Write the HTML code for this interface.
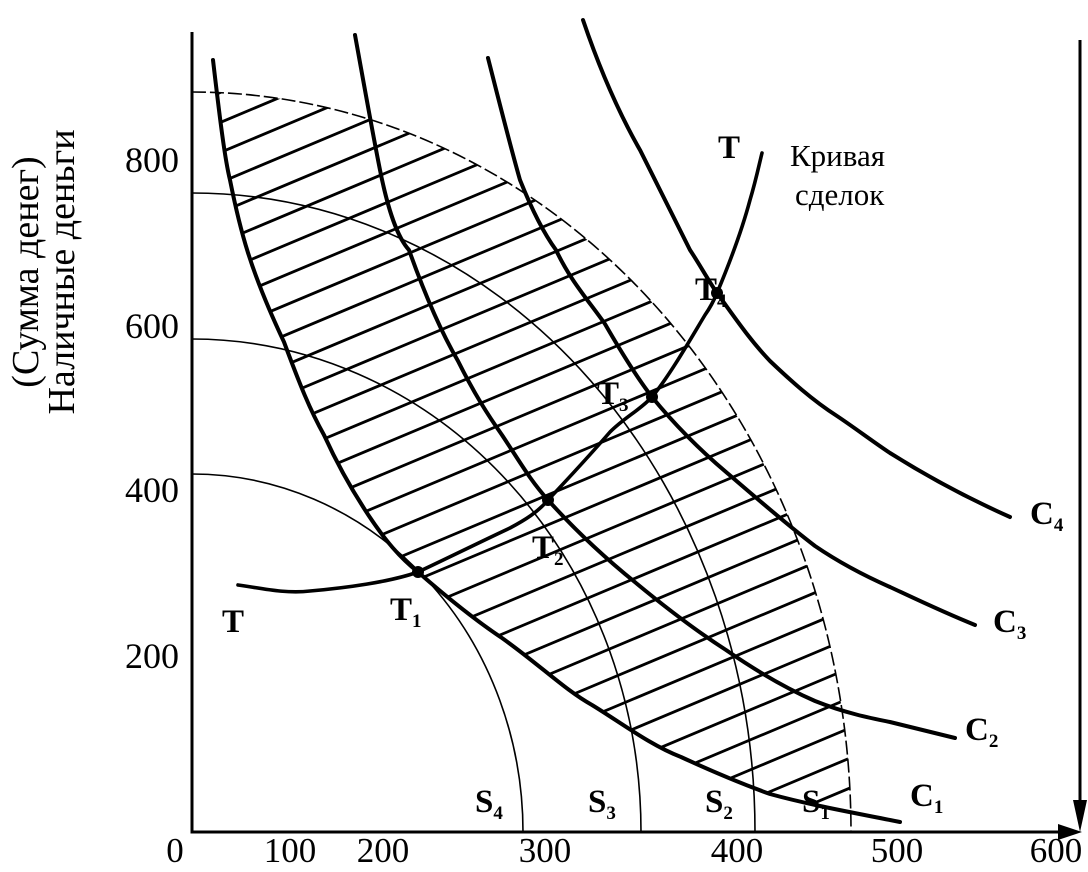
<!DOCTYPE html>
<html><head><meta charset="utf-8"><style>
html,body{margin:0;padding:0;background:#fff;width:1088px;height:872px;overflow:hidden;}
svg{display:block;}
text{font-family:"Liberation Serif",serif;fill:#000;}
</style></head><body>
<svg width="1088" height="872" viewBox="0 0 1088 872" xmlns="http://www.w3.org/2000/svg">
<defs>
<clipPath id="ell"><path d="M192,832 L192,92 A659,740 0 0 1 851,832 Z"/></clipPath>
<clipPath id="rc"><path d="M213,0 L213,60 C220,120 225,160 230,180 C240,230 250,270 284,342 C300,385 310,410 324,435 C340,470 355,495 369,516 C385,540 400,558 418,572 C450,600 475,620 502,638 C540,665 565,690 592,705 C620,722 650,745 681,757 C720,775 745,785 770,794 C810,805 850,812 900,822 L1088,900 L1088,0 Z"/></clipPath>
</defs>
<g fill="none" stroke="#000">
<g clip-path="url(#ell)"><g clip-path="url(#rc)" stroke-width="2.8">
<path d="M150,2 L1000,-355 M150,32 L1000,-325 M150,62 L1000,-295 M150,92 L1000,-265 M150,122 L1000,-235 M150,152 L1000,-205 M150,182 L1000,-175 M150,212 L1000,-145 M150,242 L1000,-115 M150,272 L1000,-85 M150,302 L1000,-55 M150,332 L1000,-25 M150,362 L1000,5 M150,392 L1000,35 M150,422 L1000,65 M150,452 L1000,95 M150,482 L1000,125 M150,512 L1000,155 M150,542 L1000,185 M150,572 L1000,215 M150,602 L1000,245 M150,632 L1000,275 M150,662 L1000,305 M150,692 L1000,335 M150,722 L1000,365 M150,752 L1000,395 M150,782 L1000,425 M150,812 L1000,455 M150,842 L1000,485 M150,872 L1000,515 M150,902 L1000,545 M150,932 L1000,575 M150,962 L1000,605 M150,992 L1000,635 M150,1022 L1000,665 M150,1052 L1000,695 M150,1082 L1000,725 M150,1112 L1000,755 M150,1142 L1000,785 M150,1172 L1000,815 M150,1202 L1000,845 M150,1232 L1000,875"/>
</g></g>
<g stroke-width="1.6">
<path d="M192,474 A331,358 0 0 1 523,832"/>
<path d="M192,339 A449,493 0 0 1 641,832"/>
<path d="M192,193 A563,639 0 0 1 755,832"/>
<path d="M192,92 A659,740 0 0 1 851,832" stroke-dasharray="14,4"/>
</g>
<g stroke-width="4" stroke-linecap="round">
<path d="M213,60 C220,120 225,160 230,180 C240,230 250,270 284,342 C300,385 310,410 324,435 C340,470 355,495 369,516 C385,540 400,558 418,572 C450,600 475,620 502,638 C540,665 565,690 592,705 C620,722 650,745 681,757 C720,775 745,785 770,794 C810,805 850,812 900,822"/>
<path d="M355,35 C365,90 372,130 380,170 C390,220 400,240 409,250 C425,295 440,330 458,361 C475,395 488,415 502,435 C520,462 530,480 548,500 C575,530 605,558 636,583 C665,607 695,630 726,650 C755,670 785,688 815,701 C845,713 870,718 890,722 C915,728 935,733 955,738"/>
<path d="M488,58 C500,105 510,145 520,180 C532,210 545,235 556,250 C570,280 588,300 605,324 C620,350 635,375 652,397 C675,425 700,450 726,472 C755,497 785,523 815,546 C840,563 865,576 890,587 C920,601 945,613 975,625"/>
<path d="M583,20 C600,70 620,115 640,150 C660,190 675,220 690,250 C700,265 708,280 717,293 C735,318 750,340 770,361 C790,380 812,400 837,416 C855,428 872,441 890,453 C925,475 965,497 1010,517"/>
</g>
<path d="M238,585 C260,588 285,594 310,591 C345,588 390,582 418,572 C450,557 480,542 510,528 C525,520 538,512 548,500 C565,482 590,455 610,432 C625,417 640,410 652,397 C670,375 690,340 705,315 C712,305 717,293 717,293 C730,262 742,230 750,200 C756,180 759,165 762,153" stroke-width="3.6" stroke-linecap="round"/>
<path d="M192,32 L192,832 L1065,832" stroke-width="3"/>
<path d="M1080,40 L1080,810" stroke-width="3"/>
</g>
<path d="M1082,832 L1058,824 L1058,840 Z" fill="#000"/>
<path d="M1080,832 L1073,800 L1087,800 Z" fill="#000"/>
<g fill="#000">
<circle cx="418" cy="572" r="6"/><circle cx="548" cy="500" r="6"/><circle cx="652" cy="397" r="6"/><circle cx="717" cy="293" r="6"/>
</g>
<g font-size="36" text-anchor="middle">
<text x="152" y="172">800</text>
<text x="152" y="338">600</text>
<text x="152" y="502">400</text>
<text x="152" y="668">200</text>
</g>
<g font-size="35" text-anchor="middle">
<text x="175" y="862">0</text>
<text x="290" y="862">100</text>
<text x="383" y="862">200</text>
<text x="545" y="862">300</text>
<text x="737" y="862">400</text>
<text x="897" y="862">500</text>
<text x="1056" y="862">600</text>
</g>
<g font-size="38" text-anchor="middle">
<text transform="translate(38,272) rotate(-90)">(Сумма денег)</text>
<text transform="translate(74,272) rotate(-90)">Наличные деньги</text>
</g>
<g font-size="31">
<text x="790" y="166">Кривая</text>
<text x="795" y="205">сделок</text>
</g>
<g font-size="33" font-weight="bold">
<text x="718" y="158">T</text>
<text x="222" y="632">T</text>
<text x="390" y="620">T<tspan font-size="19" dy="7">1</tspan></text>
<text x="532" y="558">T<tspan font-size="19" dy="7">2</tspan></text>
<text x="597" y="404">T<tspan font-size="19" dy="7">3</tspan></text>
<text x="695" y="300">T<tspan font-size="19" dy="7">4</tspan></text>
<text x="475" y="812">S<tspan font-size="19" dy="7">4</tspan></text>
<text x="588" y="812">S<tspan font-size="19" dy="7">3</tspan></text>
<text x="705" y="812">S<tspan font-size="19" dy="7">2</tspan></text>
<text x="802" y="812">S<tspan font-size="19" dy="7">1</tspan></text>
<text x="910" y="806">C<tspan font-size="19" dy="7">1</tspan></text>
<text x="965" y="740">C<tspan font-size="19" dy="7">2</tspan></text>
<text x="993" y="632">C<tspan font-size="19" dy="7">3</tspan></text>
<text x="1030" y="524">C<tspan font-size="19" dy="7">4</tspan></text>
</g>
</svg>
</body></html>
